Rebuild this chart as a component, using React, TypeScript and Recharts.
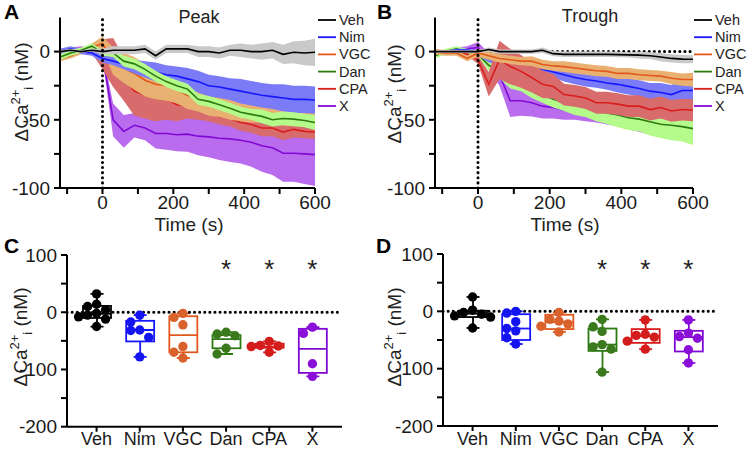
import React from 'react';
import { ComposedChart, Area, Line, Bar, XAxis, YAxis, ReferenceLine } from 'recharts';

const FONT = '"Liberation Sans", Arial, Helvetica, sans-serif';

const times = [-120, -90, -60, -30, 0, 30, 60, 90, 120, 150, 180, 210, 240, 270, 300, 330, 360, 390, 420, 450, 480, 510, 540, 570, 600];
const groups = ['Veh', 'Nim', 'VGC', 'Dan', 'CPA', 'X'];

const lineColors = ['#000000', '#1717ff', '#e2581c', '#2c7a12', '#d91c1c', '#800ad4'];
const bandColors = ['#c9c9c9', '#7b7bf7', '#e9b171', '#b5fb8c', '#d86c6c', '#b96cee'];
const dotColors = ['#000000', '#1414f0', '#d9612c', '#3a7a1c', '#d41c1c', '#8a0fd8'];

// A: peak, mean and sem per group
const peakVeh = [0, 1, 0, 1, 0, 1, 1, 1, 2, -3, 2, 2, 2, 0, 0, -1, 1, 1, 0, 0, 1, -2, -0.5, -1, -0.5];
const peakVehErr = [1, 1, 1, 1, 2, 3, 3, 3, 3, 3, 3, 3, 3, 4, 4, 4, 4, 5, 5, 6, 6, 7, 8, 9, 10];
const peakNim = [0, 2, 0, -1, -5, -7, -9, -11, -13, -15, -17, -18, -20, -22, -25, -26, -27.5, -29, -30.5, -32, -33, -34, -35, -35, -35.5];
const peakNimErr = [2, 2, 2, 2, 3, 3, 4, 5, 6, 7, 7, 7, 8, 8, 8, 8, 8, 9, 9, 9, 9, 10, 10, 10, 10];
const peakVgc = [-5, -3, 0, 3, 6, -7, -12, -16, -21, -24, -25, -28, -32, -35, -38, -40, -42, -44, -45, -46, -47.5, -48, -49, -49, -50];
const peakVgcErr = [2, 2, 2, 3, 5, 10, 11, 12, 12, 11, 11, 10, 10, 9, 9, 8, 8, 7, 7, 6, 6, 6, 6, 6, 6];
const peakDan = [-4, -1, 1, 4, -1, -1, -7, -9, -13, -18, -22, -25, -27.5, -35, -36.5, -39, -41.5, -44.5, -46, -47.5, -50, -49, -49.5, -50.5, -52];
const peakDanErr = [2, 2, 2, 2, 2, 3, 4, 4, 4, 4, 4, 4, 4, 4, 4, 4, 4, 4, 4, 5, 5, 5, 5, 5, 5.5];
const peakCpa = [-2, 0, 1, 2, -2, -8, -20, -29, -32, -34, -35, -39, -40, -43, -45, -47.5, -49, -52, -53.5, -56, -56, -59, -57, -58.5, -59];
const peakCpaErr = [2, 2, 2, 3, 11, 18, 16, 18, 17, 17, 15, 12, 9, 7, 6, 6, 6, 6, 6, 6, 6, 6, 6, 5, 5];
const peakX = [0, 1, 2, 0, -2, -50, -58.5, -54, -56, -60, -60, -61, -60.5, -62, -62.5, -63.5, -64, -65, -66.5, -69, -70.5, -74.5, -74.5, -75, -75.5];
const peakXErr = [2, 2, 2, 2, 3, 12, 12, 9, 9, 11, 12, 12, 13, 14, 15, 16, 17, 17, 18, 19, 20, 21, 21, 22, 23];

// B: trough
const troughVeh = [0, 0, 0, 0, 0, 1.5, 0, 0, 0, 0, 1, -1.5, -2, -2, -2, -2, -2, -2.2, -2.4, -2.6, -3, -4, -5, -5.5, -5.6];
const troughVehErr = [1, 1, 1, 1, 1, 1.5, 1.5, 1.5, 1.5, 1.5, 2, 2, 2, 2, 2, 2, 2, 2, 2, 2.5, 2.5, 3, 3, 3, 3];
const troughNim = [0, 0, 1, 1, -1, -5, -7, -8, -9.5, -11, -13, -15, -17, -19, -20.5, -21.5, -23, -24, -25.5, -27, -29, -30, -31.5, -28.5, -28.5];
const troughNimErr = [1, 1, 1, 1, 2, 3, 3, 4, 4, 4, 4, 4, 5, 5, 5, 5, 5, 6, 6, 6, 6, 7, 7, 8, 8];
const troughVgc = [0, -1, -1, -5, -1, -3, -5, -6, -7, -7, -9.5, -10.5, -11, -12, -13, -14, -14.5, -16, -16, -17, -17.5, -18, -19.5, -20.5, -20.5];
const troughVgcErr = [2, 2, 2, 2, 3, 3, 3, 3, 3, 3.5, 3.5, 3.5, 4, 4, 4, 4, 4, 4, 4, 4, 4, 4, 4.5, 4.5, 5];
const troughDan = [-3, 0, 2, 0, -2, -10, -14.5, -22, -24, -28, -31.5, -35, -37.5, -39.5, -41, -43, -45, -46.5, -48.5, -49.5, -51.5, -53.3, -54, -55, -56.5];
const troughDanErr = [2, 2, 2, 2, 2, 4, 5, 5, 5, 6, 6, 6, 6, 7, 7, 8, 8, 9, 9, 9, 10, 10, 11, 11, 12];
const troughCpa = [0, 0, -1, -2, -6, -24, -6, -11, -14.5, -19, -24, -25.5, -31.5, -32.5, -34, -37.5, -37.5, -38.5, -40, -40, -42.5, -41, -43.5, -42.5, -43];
const troughCpaErr = [1, 1, 1, 1, 3, 9, 14, 13, 12, 11, 10, 9, 8, 8, 8, 8, 8, 8, 8, 8, 8, 8, 8, 8, 8];
const troughX = [0, 0, 1, 2, 3, -7, -17, -36, -36, -37.5, -40, -41, -43, -44, -45, -46, -47.5, -49, -51, -52, -54, -55.5, -56, -57, -58];
const troughXErr = [1, 1, 2, 2, 4, 6, 8, 12, 11, 10, 9, 8, 7, 6, 6, 6, 6, 6, 6, 7, 7, 7, 7, 8, 8];

// C: peak summary (box = min, q1, median, q3, max) and individual cells
const cMin = [-25, -78, -80, -73, -70, -112];
const cQ1 = [-10, -51, -70, -63, -62, -106];
const cMed = [-3, -31, -40, -47, -60, -64];
const cQ3 = [11, -15, -7, -40, -55, -29];
const cMax = [32, -5, -2, -35, -51, -26];
const cVeh = [32, 14, 10, 4, -2, -5, -8, -12, -25];
const cNim = [-5, -17, -31, -32, -44, -78];
const cVgc = [-2, -9, -22, -60, -70, -80];
const cDan = [-35, -38, -41, -63, -73];
const cCpa = [-51, -58, -59, -60, -70];
const cX = [-26, -37, -90, -112];
const cStar = [null, null, null, 84, 84, 84];

// D: trough summary
const dMin = [-29, -57, -36, -106, -66, -90];
const dQ1 = [-10, -50, -31, -69, -55, -70];
const dMed = [-4, -30, -19, -58, -43, -45];
const dQ3 = [1, -5, -6, -30, -31, -34];
const dMax = [25, 0, -2, -14, -15, -15];
const dVeh = [25, 2, -2, -5, -8, -10, -29];
const dNim = [0, -3, -18, -30, -34, -46, -57];
const dVgc = [-2, -14, -17, -22, -26, -36];
const dDan = [-14, -27, -35, -58, -62, -66, -106];
const dCpa = [-15, -40, -42, -45, -52, -66];
const dX = [-15, -38, -44, -47, -67, -90];
const dStar = [null, null, null, 83, 83, 83];

const buildRows = (means: number[][], errs: number[][]) =>
  times.map((t, i) => {
    const row: any = { t };
    groups.forEach((g, s) => {
      row[g] = means[s][i];
      row[g + 'Band'] = [means[s][i] - errs[s][i], means[s][i] + errs[s][i]];
    });
    return row;
  });

const peakRows = buildRows(
  [peakVeh, peakNim, peakVgc, peakDan, peakCpa, peakX],
  [peakVehErr, peakNimErr, peakVgcErr, peakDanErr, peakCpaErr, peakXErr],
);
const troughRows = buildRows(
  [troughVeh, troughNim, troughVgc, troughDan, troughCpa, troughX],
  [troughVehErr, troughNimErr, troughVgcErr, troughDanErr, troughCpaErr, troughXErr],
);

const buildBoxRows = (mn: number[], q1: number[], md: number[], q3: number[], mx: number[], pts: number[][], star: (number | null)[]) =>
  groups.map((name, i) => {
    const row: any = { name, min: mn[i], q1: q1[i], med: md[i], q3: q3[i], max: mx[i], color: lineColors[i], star: star[i] };
    pts[i].forEach((v, j) => {
      row['p' + j] = v;
    });
    return row;
  });

const cPoints = [cVeh, cNim, cVgc, cDan, cCpa, cX];
const dPoints = [dVeh, dNim, dVgc, dDan, dCpa, dX];
const cRows = buildBoxRows(cMin, cQ1, cMed, cQ3, cMax, cPoints, cStar);
const dRows = buildBoxRows(dMin, dQ1, dMed, dQ3, dMax, dPoints, dStar);
const MAX_PTS = 9;

// simple beeswarm, offsets in px
const PX_PER_UNIT = 171.7 / 300;
function swarm(vals: number[]) {
  const order = vals.map((_, i) => i).sort((a, b) => vals[b] - vals[a]);
  const placed: { x: number; y: number }[] = [];
  const out = vals.map(() => 0);
  const steps = [0, -1, 1, -2, 2, -3, 3];
  order.forEach((i) => {
    const y = -vals[i] * PX_PER_UNIT;
    for (const s of steps) {
      const x = s * 9;
      if (placed.every((p) => Math.hypot(p.x - x, p.y - y) >= 8)) {
        out[i] = x;
        placed.push({ x, y });
        return;
      }
    }
    placed.push({ x: 0, y });
  });
  return out;
}
const cOffsets = cPoints.map(swarm);
const dOffsets = dPoints.map(swarm);

const axisStyle = { stroke: '#000', strokeWidth: 2 };
const tickStyle = { fontSize: 19, fill: '#1a1a1a', fontFamily: FONT };
const catTickStyle = { fontSize: 18, fill: '#1a1a1a', fontFamily: FONT };

const drawOrderPeak = ['X', 'CPA', 'VGC', 'Nim', 'Dan', 'Veh'];
const drawOrderTrough = ['X', 'Dan', 'Nim', 'CPA', 'VGC', 'Veh'];

function TimeCourse({ rows, order, left, width, yW, right, zeroLine }: any) {
  return (
    <div style={{ position: 'absolute', left, top: 0 }}>
      <ComposedChart width={width} height={225} data={rows} margin={{ top: 17.5, right, bottom: 7, left: 0 }} style={{ overflow: 'visible' }}>
        <XAxis
          type="number"
          dataKey="t"
          domain={[-120, 600]}
          allowDataOverflow
          ticks={[-100, 0, 100, 200, 300, 400, 500, 600]}
          tickFormatter={(v) => (v % 200 === 0 ? String(v) : '')}
          axisLine={axisStyle}
          tickLine={axisStyle}
          tickSize={6}
          tickMargin={2}
          tick={tickStyle}
          height={30}
        />
        <YAxis
          type="number"
          domain={[-100, 25]}
          allowDataOverflow
          ticks={[-100, -75, -50, -25, 0]}
          tickFormatter={(v) => (v % 50 === 0 ? String(v) : '')}
          axisLine={axisStyle}
          tickLine={axisStyle}
          tickSize={6}
          tickMargin={4}
          tick={tickStyle}
          width={yW}
        />
        {zeroLine && (
          <ReferenceLine y={0} stroke="#000" strokeWidth={3} strokeDasharray="0.1 5" strokeLinecap="round" zIndex={50} />
        )}
        {order.map((g: string, k: number) => {
          const i = groups.indexOf(g);
          return [
            <Area
              key={g + 'a'}
              dataKey={g + 'Band'}
              type="linear"
              stroke="none"
              fill={bandColors[i]}
              fillOpacity={1}
              isAnimationActive={false}
              activeDot={false}
              zIndex={100 + k * 2}
            />,
            <Line
              key={g + 'l'}
              dataKey={g}
              type="linear"
              stroke={lineColors[i]}
              strokeWidth={1.6}
              dot={false}
              activeDot={false}
              isAnimationActive={false}
              zIndex={101 + k * 2}
            />,
          ];
        })}
        <ReferenceLine x={0} stroke="#000" strokeWidth={3} strokeDasharray="0.1 5" strokeLinecap="round" zIndex={500} />
      </ComposedChart>
    </div>
  );
}

const BoxShape = (props: any) => {
  const { x, y, width, height, payload } = props;
  const top = Math.min(y, y + height);
  const h = Math.abs(height);
  const k = h / (payload.q3 - payload.q1);
  const py = (v: number) => top + (payload.q3 - v) * k;
  const cx = x + width / 2;
  return (
    <g stroke={payload.color} strokeWidth={1.8} fill="none">
      <line x1={cx} x2={cx} y1={py(payload.max)} y2={top} />
      <line x1={cx} x2={cx} y1={top + h} y2={py(payload.min)} />
      <line x1={cx - 6.5} x2={cx + 6.5} y1={py(payload.max)} y2={py(payload.max)} />
      <line x1={cx - 6.5} x2={cx + 6.5} y1={py(payload.min)} y2={py(payload.min)} />
      <rect x={x} y={top} width={width} height={h} />
      <line x1={x} x2={x + width} y1={py(payload.med)} y2={py(payload.med)} />
    </g>
  );
};

function BoxPanel({ rows, offsets, left, width, yW, right, top, xH }: any) {
  return (
    <div style={{ position: 'absolute', left, top: 225 }}>
      <ComposedChart width={width} height={225} data={rows} margin={{ top, right, bottom: 0, left: 0 }} style={{ overflow: 'visible' }}>
        <XAxis
          dataKey="name"
          type="category"
          padding={{ left: 8, right: 8 }}
          axisLine={axisStyle}
          tickLine={axisStyle}
          tickSize={5}
          tickMargin={1}
          tick={catTickStyle}
          height={xH}
          interval={0}
        />
        <YAxis
          type="number"
          domain={[-200, 100]}
          allowDataOverflow
          ticks={[-200, -150, -100, -50, 0, 50, 100]}
          tickFormatter={(v) => (v % 100 === 0 ? String(v) : '')}
          axisLine={axisStyle}
          tickLine={axisStyle}
          tickSize={6}
          tickMargin={4}
          tick={tickStyle}
          width={yW}
        />
        <ReferenceLine y={0} stroke="#000" strokeWidth={3} strokeDasharray="0.1 5" strokeLinecap="round" />
        <Bar dataKey={(d: any) => [d.q1, d.q3]} barSize={28} shape={BoxShape} isAnimationActive={false} />
        {Array.from({ length: MAX_PTS }).map((_, j) => (
          <Line
            key={'p' + j}
            dataKey={'p' + j}
            stroke="none"
            isAnimationActive={false}
            activeDot={false}
            dot={(p: any) => {
              const v = p.payload['p' + j];
              if (v == null || p.cy == null) return <g key={'d' + j + '-' + p.index} />;
              return (
                <circle
                  key={'d' + j + '-' + p.index}
                  cx={p.cx + offsets[p.index][j]}
                  cy={p.cy}
                  r={4.7}
                  fill={dotColors[p.index]}
                  stroke="none"
                />
              );
            }}
          />
        ))}
        <Line
          dataKey="star"
          stroke="none"
          isAnimationActive={false}
          activeDot={false}
          dot={(p: any) => {
            if (p.payload.star == null || p.cy == null) return <g key={'s' + p.index} />;
            return (
              <text key={'s' + p.index} x={p.cx} y={p.cy + 14} textAnchor="middle" fontSize={26} fill="#222" fontFamily={FONT}>
                *
              </text>
            );
          }}
        />
      </ComposedChart>
    </div>
  );
}

function YLabel({ x, y }: { x: number; y: number }) {
  return (
    <text transform={`translate(${x},${y}) rotate(-90)`} textAnchor="middle" fontSize={19} fill="#222">
      <tspan>ΔCa</tspan>
      <tspan fontSize={13} dy={-8}>2+</tspan>
      <tspan fontSize={13} dy={13}>i</tspan>
      <tspan dy={-5}> (nM)</tspan>
    </text>
  );
}

function Legend({ x, y }: { x: number; y: number }) {
  return (
    <g>
      {groups.map((g, i) => (
        <g key={g}>
          <line x1={x} x2={x + 18} y1={y + i * 17.2} y2={y + i * 17.2} stroke={lineColors[i]} strokeWidth={1.8} />
          <text x={x + 21} y={y + i * 17.2 + 5} fontSize={14.5} fill="#222">
            {g}
          </text>
        </g>
      ))}
    </g>
  );
}

export default function App() {
  return (
    <div style={{ position: 'absolute', left: 0, top: 0, width: 747, height: 450, background: '#fff', fontFamily: FONT, overflow: 'hidden' }}>
      <TimeCourse rows={peakRows} order={drawOrderPeak} left={0} width={373} yW={60} right={58} />
      <TimeCourse rows={troughRows} order={drawOrderTrough} left={373} width={374} yW={62} right={54} zeroLine />
      <BoxPanel rows={cRows} offsets={cOffsets} left={0} width={373} yW={67} right={31} top={30} xH={23.3} />
      <BoxPanel rows={dRows} offsets={dOffsets} left={373} width={374} yW={70} right={29} top={29} xH={24} />
      <svg width={747} height={450} style={{ position: 'absolute', left: 0, top: 0, pointerEvents: 'none', fontFamily: FONT }}>
        <text x={4} y={19} fontSize={21} fontWeight="bold">A</text>
        <text x={377} y={19} fontSize={21} fontWeight="bold">B</text>
        <text x={4} y={253} fontSize={21} fontWeight="bold">C</text>
        <text x={376} y={253} fontSize={21} fontWeight="bold">D</text>
        <text x={199} y={23} fontSize={18} textAnchor="middle" fill="#222">Peak</text>
        <text x={590} y={22} fontSize={18} textAnchor="middle" fill="#222">Trough</text>
        <text x={189} y={231} fontSize={19} textAnchor="middle" fill="#222">Time (s)</text>
        <text x={565} y={231} fontSize={19} textAnchor="middle" fill="#222">Time (s)</text>
        <YLabel x={28} y={92} />
        <YLabel x={401} y={94} />
        <YLabel x={27} y={337} />
        <YLabel x={401} y={337} />
        <Legend x={318} y={20} />
        <Legend x={694} y={20} />
      </svg>
    </div>
  );
}
